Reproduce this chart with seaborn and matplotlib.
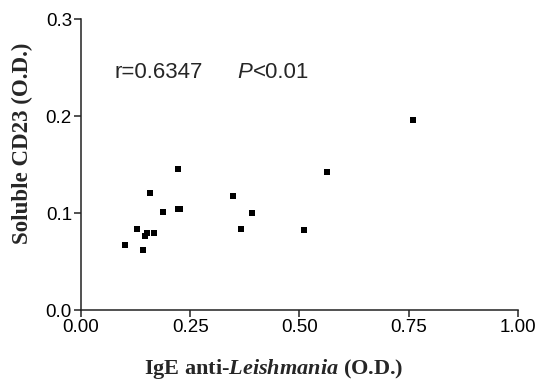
import matplotlib
matplotlib.use("Agg")
import matplotlib.pyplot as plt
import seaborn as sns
import pandas as pd

# IgE anti-Leishmania (O.D.) vs soluble CD23 (O.D.)
ige_od = [0.101, 0.128, 0.142, 0.146, 0.150, 0.166, 0.159, 0.187, 0.221,
          0.223, 0.226, 0.347, 0.365, 0.392, 0.510, 0.562, 0.760]
cd23_od = [0.067, 0.084, 0.062, 0.076, 0.079, 0.079, 0.121, 0.101, 0.145,
           0.104, 0.104, 0.118, 0.084, 0.100, 0.082, 0.142, 0.196]
x_ticks = [0.00, 0.25, 0.50, 0.75, 1.00]
y_ticks = [0.0, 0.1, 0.2, 0.3]


def main():
    df = pd.DataFrame({'ige': ige_od, 'cd23': cd23_od})

    sns.set_style('ticks')
    plt.rcParams['font.family'] = ['Liberation Sans', 'DejaVu Sans']
    plt.rcParams['mathtext.fontset'] = 'custom'
    plt.rcParams['mathtext.rm'] = 'Liberation Serif:bold'
    plt.rcParams['mathtext.it'] = 'Liberation Serif:italic:bold'
    plt.rcParams['mathtext.bf'] = 'Liberation Serif:bold'

    fig = plt.figure(figsize=(5.39, 3.84), dpi=100)
    ax = fig.add_axes([0.1503, 0.1927, 0.8107, 0.7578])

    sns.scatterplot(data=df, x='ige', y='cd23', marker='s', s=20,
                    color='black', edgecolor='black', linewidth=0, ax=ax)

    ax.set_xlim(0, 1)
    ax.set_ylim(0, 0.3)
    ax.set_xticks(x_ticks)
    ax.set_xticklabels([f'{t:.2f}' for t in x_ticks])
    ax.set_yticks(y_ticks)
    ax.set_yticklabels([f'{t:.1f}' for t in y_ticks])
    ax.tick_params(axis='both', labelsize=13.5, length=5, width=1.1,
                   color='#222222', labelcolor='black', pad=1.5)
    for side in ['left', 'bottom']:
        ax.spines[side].set_linewidth(1.1)
        ax.spines[side].set_color('#222222')
    sns.despine(ax=ax)
    for sp in ax.spines.values():
        sp.set_clip_on(False)

    ax.set_xlabel('IgE anti-$\\mathit{Leishmania}$ (O.D.)',
                  fontfamily='Liberation Serif', fontweight='bold', fontsize=16)
    ax.set_ylabel('Soluble CD23 (O.D.)',
                  fontfamily='Liberation Serif', fontweight='bold', fontsize=16.5)
    ax.xaxis.set_label_coords(0.44, -0.162)
    ax.yaxis.set_label_coords(-0.11, 0.574)

    ax.text(0.0755, 0.239, 'r=0.6347', fontsize=16, va='baseline', ha='left')
    p_txt = ax.text(0.357, 0.239, 'P', fontsize=16, style='italic',
                    va='baseline', ha='left')
    ax.annotate('<0.01', xy=(1, 0), xycoords=p_txt, xytext=(0.5, 0),
                textcoords='offset points', fontsize=16, va='bottom', ha='left')

    fig.savefig('out.png', dpi=100)


if __name__ == '__main__':
    main()
